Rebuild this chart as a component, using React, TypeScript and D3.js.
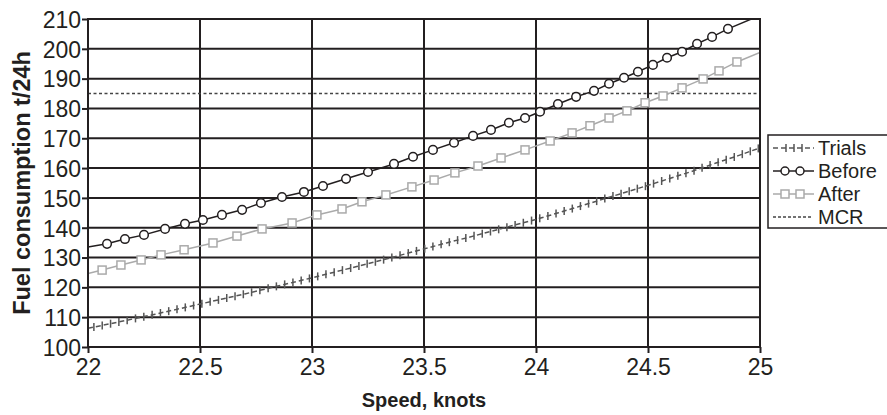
import React, { useEffect, useRef } from 'react';
import * as d3 from 'd3';

// speed (knots) / fuel (t/24h)
const beforeSpeed = [22.0, 22.085, 22.165, 22.25, 22.344, 22.433, 22.513, 22.598, 22.688, 22.772, 22.866, 22.964, 23.049, 23.152, 23.25, 23.366, 23.451, 23.54, 23.634, 23.719, 23.799, 23.879, 23.951, 24.018, 24.098, 24.179, 24.259, 24.326, 24.393, 24.455, 24.522, 24.585, 24.652, 24.719, 24.786, 24.857, 25.0];
const beforeFuel = [133.5, 134.6, 136.2, 137.6, 139.6, 141.3, 142.6, 144.3, 146.0, 148.3, 150.3, 152.0, 154.0, 156.4, 158.7, 161.4, 163.8, 166.1, 168.5, 170.8, 172.8, 175.2, 176.8, 178.9, 181.5, 183.9, 185.9, 188.3, 190.3, 192.3, 194.6, 197.0, 199.0, 201.7, 204.0, 206.7, 211.2];

const afterSpeed = [22.0, 22.063, 22.147, 22.237, 22.326, 22.429, 22.558, 22.665, 22.777, 22.911, 23.022, 23.134, 23.223, 23.33, 23.446, 23.545, 23.638, 23.741, 23.844, 23.951, 24.063, 24.161, 24.241, 24.326, 24.406, 24.487, 24.567, 24.652, 24.746, 24.817, 24.897, 25.0];
const afterFuel = [124.6, 125.8, 127.5, 129.2, 130.9, 132.6, 134.9, 137.2, 139.6, 141.6, 144.3, 146.3, 148.7, 151.0, 153.7, 156.0, 158.4, 160.7, 163.4, 166.1, 169.1, 171.8, 174.2, 176.8, 179.2, 181.9, 184.2, 186.9, 189.9, 192.6, 195.6, 198.8];

const trialsSpeed = [22.0, 22.1, 22.2, 22.3, 22.4, 22.5, 22.6, 22.7, 22.8, 22.9, 23.0, 23.1, 23.2, 23.3, 23.4, 23.5, 23.6, 23.7, 23.8, 23.9, 24.0, 24.1, 24.2, 24.3, 24.4, 24.5, 24.6, 24.7, 24.8, 24.9, 25.0];
const trialsFuel = [106.3, 107.8, 109.4, 111.0, 112.7, 114.4, 116.1, 117.8, 119.6, 121.4, 123.2, 125.1, 127.0, 128.9, 130.9, 132.9, 134.9, 136.8, 138.8, 140.8, 142.8, 145.0, 147.3, 149.6, 151.9, 154.2, 156.6, 159.0, 161.6, 164.1, 166.8];

const mcrFuel = 185;

const xTicks = [22, 22.5, 23, 23.5, 24, 24.5, 25];
const yTicks = [100, 110, 120, 130, 140, 150, 160, 170, 180, 190, 200, 210];
const legendLabels = ['Trials', 'Before', 'After', 'MCR'];

const W = 887;
const H = 415;
const FONT = 'Liberation Sans, Arial, Helvetica, sans-serif';

const App = () => {
  const svgRef = useRef<SVGSVGElement>(null);

  useEffect(() => {
    const svg = d3.select(svgRef.current);
    svg.selectAll('*').remove();

    const margin = { top: 19, right: 127, bottom: 68, left: 88 };
    const x = d3.scaleLinear().domain([22, 25]).range([margin.left, W - margin.right]);
    const y = d3.scaleLinear().domain([100, 210]).range([H - margin.bottom, margin.top]);
    const [x0, x1] = x.range();
    const [y0, y1] = y.range();
    const ink = '#231f20';

    svg.append('defs').append('clipPath').attr('id', 'plot-clip')
      .append('rect').attr('x', x0).attr('y', y1).attr('width', x1 - x0).attr('height', y0 - y1);

    // grid
    const grid = svg.append('g');
    grid.selectAll('line.h').data(yTicks).join('line')
      .attr('x1', x0).attr('x2', x1)
      .attr('y1', d => y(d)).attr('y2', d => y(d))
      .attr('stroke', ink).attr('stroke-width', 2);
    grid.selectAll('line.v').data(xTicks).join('line')
      .attr('x1', d => x(d)).attr('x2', d => x(d))
      .attr('y1', y1).attr('y2', y0)
      .attr('stroke', ink).attr('stroke-width', 2);

    // axes
    const xAxis = svg.append('g').attr('transform', `translate(0,${y0})`)
      .call(d3.axisBottom(x).tickValues(xTicks).tickSize(6).tickSizeOuter(0).tickFormat(d3.format('')));
    const yAxis = svg.append('g').attr('transform', `translate(${x0},0)`)
      .call(d3.axisLeft(y).tickValues(yTicks).tickSize(6).tickSizeOuter(0));
    [xAxis, yAxis].forEach(a => {
      a.select('.domain').remove();
      a.selectAll('line').attr('stroke', ink).attr('stroke-width', 2);
      a.selectAll('text').attr('fill', ink).style('font-family', FONT).style('font-size', '23px');
    });
    xAxis.selectAll('text').attr('dy', '0.72em').attr('y', 11);
    yAxis.selectAll('text').attr('x', -7).attr('dy', '0.36em');

    const plot = svg.append('g').attr('clip-path', 'url(#plot-clip)');

    // MCR
    plot.append('line')
      .attr('x1', x0).attr('x2', x1).attr('y1', y(mcrFuel)).attr('y2', y(mcrFuel))
      .attr('stroke', '#444').attr('stroke-width', 1.5).attr('stroke-dasharray', '3,2.5');

    const path = (xs: number[], ys: number[]) =>
      d3.line<number>().x(d => x(d)).y((d, i) => y(ys[i]))(xs);

    // Trials
    const trialsPath = plot.append('path')
      .attr('d', path(trialsSpeed, trialsFuel))
      .attr('fill', 'none').attr('stroke', '#555').attr('stroke-width', 1.5)
      .attr('stroke-dasharray', '5,3');
    const node = trialsPath.node() as SVGPathElement;
    const len = node.getTotalLength();
    const tickPts: { x: number; y: number }[] = [];
    for (let l = 6; l < len; l += 8.5) {
      const p = node.getPointAtLength(l);
      tickPts.push({ x: p.x, y: p.y });
    }
    plot.selectAll('line.tr').data(tickPts).join('line')
      .attr('x1', d => d.x).attr('x2', d => d.x)
      .attr('y1', d => d.y - 4).attr('y2', d => d.y + 4)
      .attr('stroke', '#555').attr('stroke-width', 1.5);

    // After
    plot.append('path').attr('d', path(afterSpeed, afterFuel))
      .attr('fill', 'none').attr('stroke', '#aaa').attr('stroke-width', 1.5);
    plot.selectAll('rect.after').data(afterSpeed.slice(1, -1)).join('rect')
      .attr('x', d => x(d) - 4).attr('y', (d, i) => y(afterFuel[i + 1]) - 4)
      .attr('width', 8).attr('height', 8)
      .attr('fill', '#fff').attr('stroke', '#aaa').attr('stroke-width', 1.5);

    // Before
    plot.append('path').attr('d', path(beforeSpeed, beforeFuel))
      .attr('fill', 'none').attr('stroke', ink).attr('stroke-width', 1.5);
    plot.selectAll('circle.before').data(beforeSpeed.slice(1, -1)).join('circle')
      .attr('cx', d => x(d)).attr('cy', (d, i) => y(beforeFuel[i + 1]))
      .attr('r', 4.3)
      .attr('fill', '#fff').attr('stroke', ink).attr('stroke-width', 1.5);

    // frame
    svg.append('rect').attr('x', x0).attr('y', y1).attr('width', x1 - x0).attr('height', y0 - y1)
      .attr('fill', 'none').attr('stroke', ink).attr('stroke-width', 2);

    // axis titles
    svg.append('text')
      .attr('x', (x0 + x1) / 2).attr('y', 407)
      .attr('text-anchor', 'middle').attr('fill', ink)
      .style('font-family', FONT).style('font-size', '20px').style('font-weight', 'bold')
      .text('Speed, knots');
    svg.append('text')
      .attr('transform', `translate(30,${(y0 + y1) / 2}) rotate(-90)`)
      .attr('text-anchor', 'middle').attr('fill', ink)
      .style('font-family', FONT).style('font-size', '23.5px').style('font-weight', 'bold')
      .text('Fuel consumption t/24h');

    // legend
    const lg = svg.append('g').attr('transform', 'translate(768,135)');
    lg.append('rect').attr('x', 0).attr('y', 0).attr('width', 130).attr('height', 93)
      .attr('fill', '#fff').attr('stroke', ink).attr('stroke-width', 1.5);
    const rows = lg.selectAll('g.row').data(legendLabels).join('g')
      .attr('transform', (d, i) => `translate(0,${13 + i * 23})`);
    rows.append('text').attr('x', 50).attr('dy', '0.36em')
      .attr('fill', ink).style('font-family', FONT).style('font-size', '20px')
      .text(d => d);
    rows.each(function (d) {
      const g = d3.select(this);
      if (d === 'Trials') {
        g.append('line').attr('x1', 5).attr('x2', 46).attr('stroke', '#555')
          .attr('stroke-width', 1.5).attr('stroke-dasharray', '5,3');
        [18, 26, 34].forEach(t => g.append('line').attr('x1', t).attr('x2', t).attr('y1', -4).attr('y2', 4)
          .attr('stroke', '#555').attr('stroke-width', 1.5));
      } else if (d === 'Before') {
        g.append('line').attr('x1', 5).attr('x2', 46).attr('stroke', ink).attr('stroke-width', 1.5);
        [17, 32].forEach(t => g.append('circle').attr('cx', t).attr('r', 4)
          .attr('fill', '#fff').attr('stroke', ink).attr('stroke-width', 1.5));
      } else if (d === 'After') {
        g.append('line').attr('x1', 5).attr('x2', 46).attr('stroke', '#aaa').attr('stroke-width', 1.5);
        [17, 32].forEach(t => g.append('rect').attr('x', t - 4).attr('y', -4).attr('width', 8).attr('height', 8)
          .attr('fill', '#fff').attr('stroke', '#aaa').attr('stroke-width', 1.5));
      } else {
        g.append('line').attr('x1', 5).attr('x2', 44).attr('stroke', '#444')
          .attr('stroke-width', 1.5).attr('stroke-dasharray', '3,2');
      }
    });
  }, []);

  return <svg ref={svgRef} width={W} height={H} style={{ position: 'absolute', left: 0, top: 0, background: '#fff' }} />;
};

export default App;
